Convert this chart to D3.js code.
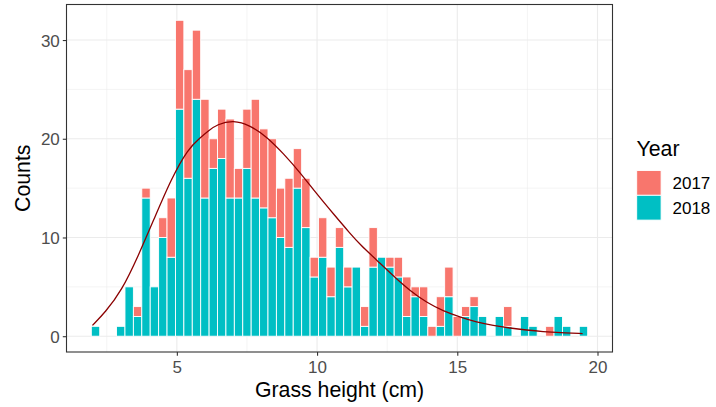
<!DOCTYPE html>
<html>
<head>
<meta charset="utf-8">
<script src="https://cdn.jsdelivr.net/npm/d3@7"></script>
<style>
  html, body { margin: 0; padding: 0; background: #fff; }
  svg { display: block; font-family: "Liberation Sans", Arial, sans-serif; }
</style>
</head>
<body>
<svg id="chart" width="716" height="407"></svg>
<script>
// ---- data ----
const binStart = 1.95;   // lower edge of first bin (cm)
const binWidth = 0.3;    // bin width (cm)
const years = ["2017", "2018"];
const counts2018 = [1,0,0,1,5,2,14,5,10,8,23,16,24,14,17,18,14,14,17,14,13,12,10,9,15,11,6,8,4,9,5,7,1,7,8,7,6,2,4,2,0,1,4,0,2,3,2,0,2,1,0,2,1,0,0,2,1,0,1];
const counts2017 = [0,0,0,0,0,1,1,0,2,6,9,11,7,10,3,5,8,3,6,10,8,8,5,7,4,5,2,4,3,2,2,0,2,4,0,1,2,4,1,3,1,3,3,2,1,1,0,0,0,2,0,0,0,0,1,0,0,0,0];
// fitted density curve (scaled to counts)
const curveX = [1.99,2.44,3.03,3.62,4.22,4.81,5.40,5.83,6.12,6.43,7.02,7.61,8.21,8.80,9.39,9.99,10.58,11.18,11.53,12.13,12.72,13.31,13.91,14.50,15.09,15.69,16.28,16.88,17.47,18.06,18.66,19.47];
const curveY = [1.1,2.4,4.6,8.1,12.1,16.0,19.0,20.1,20.8,21.45,21.9,21.35,20.2,18.5,16.6,14.4,12.4,10.4,9.3,7.7,6.1,4.6,3.4,2.55,1.95,1.42,1.08,0.82,0.62,0.46,0.35,0.27];
const xTicks = [5, 10, 15, 20];
const xMinor = [2.5, 7.5, 12.5, 17.5];
const yTicks = [0, 10, 20, 30];
const yMinor = [5, 15, 25];
const colors = {"2017": "#F8766D", "2018": "#00BFC4"};

// ---- layout ----
const svg = d3.select("#chart");
const P = {left: 66.5, right: 612.5, top: 4.5, bottom: 352};

const nb = counts2018.length;
const xLo = binStart, xHi = binStart + nb * binWidth;
const xPad = (xHi - xLo) * 0.05;
const x = d3.scaleLinear().domain([xLo - xPad, xHi + xPad]).range([P.left, P.right]);
const totals = counts2018.map((v, i) => v + counts2017[i]);
const yMax = d3.max(totals);
const yPad = yMax * 0.05;
const y = d3.scaleLinear().domain([-yPad, yMax + yPad]).range([P.bottom, P.top]);

// panel background
svg.append("rect").attr("x", P.left).attr("y", P.top)
  .attr("width", P.right - P.left).attr("height", P.bottom - P.top).attr("fill", "#fff");

// grid
const g = svg.append("g");
xMinor.forEach(v => g.append("line").attr("x1", x(v)).attr("x2", x(v)).attr("y1", P.top).attr("y2", P.bottom)
  .attr("stroke", "#EBEBEB").attr("stroke-width", 0.55));
yMinor.forEach(v => g.append("line").attr("y1", y(v)).attr("y2", y(v)).attr("x1", P.left).attr("x2", P.right)
  .attr("stroke", "#EBEBEB").attr("stroke-width", 0.55));
xTicks.forEach(v => g.append("line").attr("x1", x(v)).attr("x2", x(v)).attr("y1", P.top).attr("y2", P.bottom)
  .attr("stroke", "#EBEBEB").attr("stroke-width", 1.1));
yTicks.forEach(v => g.append("line").attr("y1", y(v)).attr("y2", y(v)).attr("x1", P.left).attr("x2", P.right)
  .attr("stroke", "#EBEBEB").attr("stroke-width", 1.1));

// bars
const bars = svg.append("g");
const bins = d3.range(nb).map(i => ({
  x0: binStart + i * binWidth, x1: binStart + (i + 1) * binWidth,
  a: counts2018[i], b: counts2017[i]
}));
bins.forEach(d => {
  bars.append("rect").attr("x", x(d.x0)).attr("width", x(d.x1) - x(d.x0))
    .attr("y", y(d.a)).attr("height", y(0) - y(d.a))
    .attr("fill", colors["2018"]).attr("stroke", "#fff").attr("stroke-width", 0.9);
  bars.append("rect").attr("x", x(d.x0)).attr("width", x(d.x1) - x(d.x0))
    .attr("y", y(d.a + d.b)).attr("height", y(d.a) - y(d.a + d.b))
    .attr("fill", colors["2017"]).attr("stroke", "#fff").attr("stroke-width", 0.9);
});

// density curve
const line = d3.line().x(d => x(d[0])).y(d => y(d[1])).curve(d3.curveBasis);
svg.append("path").datum(curveX.map((v, i) => [v, curveY[i]]))
  .attr("d", line).attr("fill", "none").attr("stroke", "#8B0000").attr("stroke-width", 1.3);

// panel border
svg.append("rect").attr("x", P.left).attr("y", P.top)
  .attr("width", P.right - P.left).attr("height", P.bottom - P.top)
  .attr("fill", "none").attr("stroke", "#333333").attr("stroke-width", 1.1);

// axes
const xAxis = d3.axisBottom(x).tickValues(xTicks).tickSize(3.7).tickPadding(2);
const xa = svg.append("g").attr("transform", `translate(0,${P.bottom})`).call(xAxis);
xa.select(".domain").remove();
xa.selectAll("line").attr("stroke", "#333333").attr("stroke-width", 1.1);
xa.selectAll("text").attr("fill", "#4D4D4D").style("font-size", "17px")
  .attr("y", 21).attr("dy", 0);

const yAxis = d3.axisLeft(y).tickValues(yTicks).tickSize(3.7).tickPadding(3);
const ya = svg.append("g").attr("transform", `translate(${P.left},0)`).call(yAxis);
ya.select(".domain").remove();
ya.selectAll("line").attr("stroke", "#333333").attr("stroke-width", 1.1);
ya.selectAll("text").attr("fill", "#4D4D4D").style("font-size", "17px").attr("dy", "0.36em");

// axis titles
svg.append("text").attr("x", (P.left + P.right) / 2).attr("y", 397)
  .attr("text-anchor", "middle").style("font-size", "21.3px").attr("fill", "#000")
  .text("Grass height (cm)");
svg.append("text").attr("transform", `translate(29.5,${(P.top + P.bottom) / 2}) rotate(-90)`)
  .attr("text-anchor", "middle").style("font-size", "21.3px").attr("fill", "#000")
  .text("Counts");

// legend
const lg = svg.append("g");
lg.append("text").attr("x", 636.5).attr("y", 156).style("font-size", "21.3px").attr("fill", "#000").text("Year");
years.forEach((yr, i) => {
  const ky = 170.5 + i * 24.8;
  lg.append("rect").attr("x", 636.7).attr("y", ky).attr("width", 24.4).attr("height", 24.8)
    .attr("fill", colors[yr]).attr("stroke", "#fff").attr("stroke-width", 0.9);
  lg.append("text").attr("x", 672.5).attr("y", ky + 12.4).attr("dy", "0.36em")
    .style("font-size", "17px").attr("fill", "#000").text(yr);
});
</script>
</body>
</html>
